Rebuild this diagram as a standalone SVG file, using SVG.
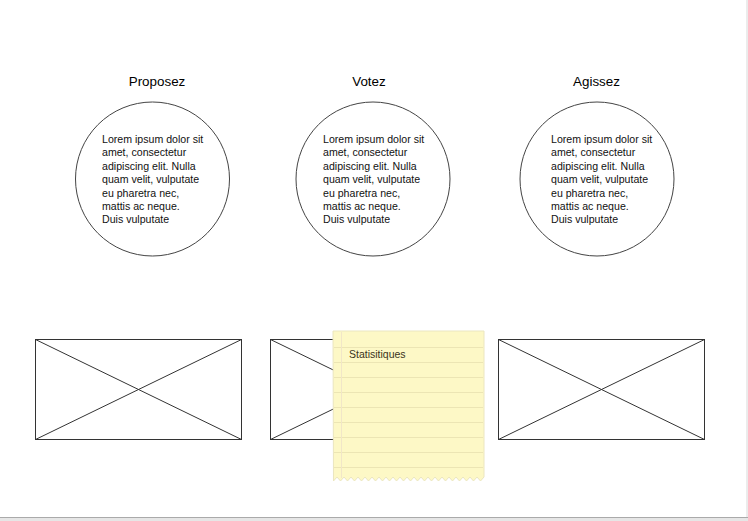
<svg xmlns="http://www.w3.org/2000/svg" width="748" height="521" viewBox="0 0 748 521">
<style>
.title{font-family:"Liberation Sans",Arial,sans-serif;font-size:13.4px;fill:#000;text-anchor:middle}
.body{font-family:"Liberation Sans",Arial,sans-serif;font-size:10.6px;fill:#111}
.circ{fill:#fff;stroke:#444;stroke-width:1}
.ph{fill:#fff;stroke:#333;stroke-width:1}
.ph line{stroke:#333;stroke-width:1}
.rule{stroke:#ece5b4;stroke-width:1}
.note-text{font-family:"Liberation Sans",Arial,sans-serif;font-size:10.5px;fill:#3a3320}
</style>
<rect x="0" y="0" width="748" height="521" fill="#fff"/>
<rect x="0" y="517" width="748" height="4" fill="#e6e6e6"/>
<line x1="0" y1="517.5" x2="748" y2="517.5" stroke="#aaa"/>
<line x1="747" y1="0" x2="747" y2="517" stroke="#d8d8d8"/>

<g id="proposez">
<text class="title" x="157" y="86">Proposez</text>
<circle class="circ" cx="152.5" cy="179" r="77"/>
<text class="body"><tspan x="102" y="143">Lorem ipsum dolor sit</tspan><tspan x="102" y="156.4">amet, consectetur</tspan><tspan x="102" y="169.8">adipiscing elit. Nulla</tspan><tspan x="102" y="183.2">quam velit, vulputate</tspan><tspan x="102" y="196.6">eu pharetra nec,</tspan><tspan x="102" y="210">mattis ac neque.</tspan><tspan x="102" y="223.4">Duis vulputate</tspan></text>
</g>

<g id="votez">
<text class="title" x="369" y="86">Votez</text>
<circle class="circ" cx="373" cy="179" r="77"/>
<text class="body"><tspan x="323" y="143">Lorem ipsum dolor sit</tspan><tspan x="323" y="156.4">amet, consectetur</tspan><tspan x="323" y="169.8">adipiscing elit. Nulla</tspan><tspan x="323" y="183.2">quam velit, vulputate</tspan><tspan x="323" y="196.6">eu pharetra nec,</tspan><tspan x="323" y="210">mattis ac neque.</tspan><tspan x="323" y="223.4">Duis vulputate</tspan></text>
</g>

<g id="agissez">
<text class="title" x="596.5" y="86">Agissez</text>
<circle class="circ" cx="597" cy="179" r="77"/>
<text class="body"><tspan x="551" y="143">Lorem ipsum dolor sit</tspan><tspan x="551" y="156.4">amet, consectetur</tspan><tspan x="551" y="169.8">adipiscing elit. Nulla</tspan><tspan x="551" y="183.2">quam velit, vulputate</tspan><tspan x="551" y="196.6">eu pharetra nec,</tspan><tspan x="551" y="210">mattis ac neque.</tspan><tspan x="551" y="223.4">Duis vulputate</tspan></text>
</g>

<g id="image1" class="ph">
<rect x="35.5" y="339.5" width="206" height="100"/>
<line x1="35.5" y1="339.5" x2="241.5" y2="439.5"/>
<line x1="35.5" y1="439.5" x2="241.5" y2="339.5"/>
</g>

<g id="image2" class="ph">
<rect x="270.5" y="339.5" width="206" height="100"/>
<line x1="270.5" y1="339.5" x2="476.5" y2="439.5"/>
<line x1="270.5" y1="439.5" x2="476.5" y2="339.5"/>
</g>

<g id="image3" class="ph">
<rect x="498.5" y="339.5" width="206" height="100"/>
<line x1="498.5" y1="339.5" x2="704.5" y2="439.5"/>
<line x1="498.5" y1="439.5" x2="704.5" y2="339.5"/>
</g>

<g id="note">
<path d="M333,331 H484 V477 l-3.5,4 l-3.5,-4 l-3.5,4 l-3.5,-4 l-3.5,4 l-3.5,-4 l-3.5,4 l-3.5,-4 l-3.5,4 l-3.5,-4 l-3.5,4 l-3.5,-4 l-3.5,4 l-3.5,-4 l-3.5,4 l-3.5,-4 l-3.5,4 l-3.5,-4 l-3.5,4 l-3.5,-4 l-3.5,4 l-3.5,-4 l-3.5,4 l-3.5,-4 l-3.5,4 l-3.5,-4 l-3.5,4 l-3.5,-4 l-3.5,4 l-3.5,-4 l-3.5,4 l-3.5,-4 l-3.5,4 l-3.5,-4 l-3.5,4 l-3.5,-4 l-3.5,4 l-3.5,-4 l-3.5,4 l-3.5,-4 l-3.5,4 l-3.5,-4 l-3.5,4 Z" fill="#fdf8c6" stroke="#ebe6c0" stroke-width="1"/>
<g class="rule">
<line x1="334" y1="347.5" x2="483" y2="347.5"/>
<line x1="334" y1="362.5" x2="483" y2="362.5"/>
<line x1="334" y1="377.5" x2="483" y2="377.5"/>
<line x1="334" y1="392.5" x2="483" y2="392.5"/>
<line x1="334" y1="407.5" x2="483" y2="407.5"/>
<line x1="334" y1="422.5" x2="483" y2="422.5"/>
<line x1="334" y1="437.5" x2="483" y2="437.5"/>
<line x1="334" y1="452.5" x2="483" y2="452.5"/>
<line x1="334" y1="467.5" x2="483" y2="467.5"/>
</g>
<line x1="341.5" y1="332" x2="341.5" y2="478" stroke="#f1e6c8" stroke-width="1"/>
<text class="note-text" x="349" y="357.5">Statisitiques</text>
</g>
</svg>
